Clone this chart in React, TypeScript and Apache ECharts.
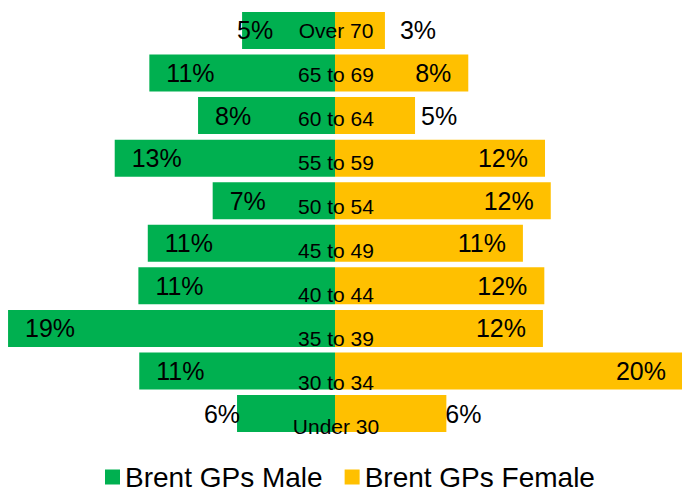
import React, { useEffect, useRef } from "react";
import * as echarts from "echarts";

const categories = [
  "Over 70",
  "65 to 69",
  "60 to 64",
  "55 to 59",
  "50 to 54",
  "45 to 49",
  "40 to 44",
  "35 to 39",
  "30 to 34",
  "Under 30",
];
const maleValues = [5.34, 10.67, 7.87, 12.66, 7.03, 10.76, 11.3, 18.79, 11.25, 5.63];
const femaleValues = [2.87, 7.66, 4.6, 12.07, 12.4, 10.8, 12.03, 11.95, 20.0, 6.4];
const seriesNames = ["Brent GPs Male", "Brent GPs Female"];

const FONT = "'Liberation Sans', Arial, sans-serif";
const GREEN = "#00B050";
const YELLOW = "#FFC000";

// label placement tweaks (style only)
const maleLabelOverrides: Record<string, any> = {
  "Over 70": { position: "insideLeft", distance: -5 },
  "Under 30": { position: "left", distance: -3 },
};
const femaleLabelOverrides: Record<string, any> = {
  "Over 70": { position: "right", distance: 15 },
  "60 to 64": { position: "right", distance: 6 },
  "Under 30": { position: "right", distance: -1 },
};

export default function App() {
  const ref = useRef<HTMLDivElement>(null);
  useEffect(() => {
    document.body.style.margin = "0";
    if (!ref.current) return;
    const chart = echarts.init(ref.current, null, { renderer: "svg" });

    const fmt = (p: any) => Math.round(Math.abs(p.value)) + "%";
    const maleData = maleValues.map((v, i) => {
      const o = maleLabelOverrides[categories[i]];
      return o ? { value: -v, label: o } : { value: -v };
    });
    const femaleData = femaleValues.map((v, i) => {
      const o = femaleLabelOverrides[categories[i]];
      return o ? { value: v, label: o } : { value: v };
    });

    chart.setOption({
      animation: false,
      textStyle: { fontFamily: FONT },
      grid: [
        { left: -13, width: 696, top: 9.2, height: 425.6, containLabel: false, outerBoundsMode: "none" },
        { left: 336, right: 0, top: 9, height: 439, containLabel: false, outerBoundsMode: "none" },
      ],
      xAxis: [
        { type: "value", gridIndex: 0, min: -20, max: 20, show: false },
        { type: "value", gridIndex: 1, min: 0, max: 1, show: false },
      ],
      yAxis: [
        {
          type: "category",
          gridIndex: 0,
          data: categories,
          inverse: true,
          axisLine: { show: false },
          axisTick: { show: false },
          axisLabel: { show: false },
          splitLine: { show: false },
        },
        {
          type: "category",
          gridIndex: 1,
          data: categories,
          inverse: true,
          position: "left",
          z: 10,
          axisLine: { show: false, onZero: false },
          axisTick: { show: false },
          splitLine: { show: false },
          axisLabel: {
            show: true,
            align: "center",
            margin: 0,
            fontSize: 21,
            color: "#000",
            fontFamily: FONT,
          },
        },
      ],
      legend: {
        data: seriesNames,
        left: 105,
        top: 463,
        padding: 0,
        icon: "rect",
        itemWidth: 15,
        itemHeight: 15,
        itemGap: 22,
        textStyle: { fontSize: 28, color: "#000", fontFamily: FONT },
      },
      series: [
        {
          name: seriesNames[0],
          type: "bar",
          xAxisIndex: 0,
          yAxisIndex: 0,
          data: maleData,
          barGap: "-100%",
          barCategoryGap: "13%",
          itemStyle: { color: GREEN },
          label: {
            show: true,
            position: "insideLeft",
            distance: 17,
            formatter: fmt,
            fontSize: 25,
            color: "#000",
            fontFamily: FONT,
          },
        },
        {
          name: seriesNames[1],
          type: "bar",
          xAxisIndex: 0,
          yAxisIndex: 0,
          data: femaleData,
          barGap: "-100%",
          barCategoryGap: "13%",
          itemStyle: { color: YELLOW },
          label: {
            show: true,
            position: "insideRight",
            distance: 17,
            formatter: fmt,
            fontSize: 25,
            color: "#000",
            fontFamily: FONT,
          },
        },
      ],
    });
    return () => chart.dispose();
  }, []);
  return <div ref={ref} style={{ width: 682, height: 493 }} />;
}
